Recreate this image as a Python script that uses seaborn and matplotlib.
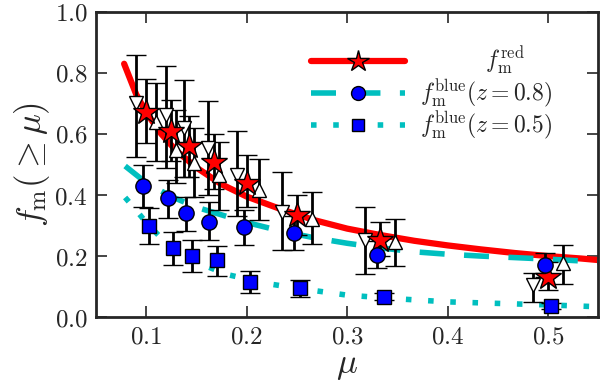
import numpy as np
import pandas as pd
import matplotlib
matplotlib.use('Agg')
import matplotlib.pyplot as plt
import seaborn as sns

# model curves
mu_red = [0.078, 0.09, 0.1, 0.115, 0.13, 0.15, 0.175, 0.2, 0.233, 0.267, 0.3,
          0.333, 0.367, 0.4, 0.433, 0.467, 0.5, 0.533, 0.55]
f_red = [0.83, 0.73, 0.67, 0.60, 0.545, 0.49, 0.435, 0.395, 0.355, 0.318, 0.29,
         0.269, 0.25, 0.235, 0.222, 0.21, 0.2, 0.192, 0.187]
mu_b08 = [0.079, 0.1, 0.125, 0.15, 0.175, 0.2, 0.233, 0.267, 0.3, 0.333, 0.367,
          0.4, 0.433, 0.467, 0.5, 0.55]
f_b08 = [0.495, 0.44, 0.395, 0.36, 0.335, 0.31, 0.283, 0.26, 0.242, 0.227, 0.214,
         0.206, 0.2, 0.195, 0.19, 0.181]
mu_b05 = [0.079, 0.09, 0.1, 0.117, 0.133, 0.153, 0.18, 0.2, 0.22, 0.25, 0.3, 0.35,
          0.4, 0.45, 0.5, 0.55]
f_b05 = [0.392, 0.35, 0.31, 0.252, 0.21, 0.176, 0.14, 0.125, 0.11, 0.095, 0.072,
         0.06, 0.05, 0.045, 0.04, 0.034]

# measurements
mu_star = [0.1, 0.125, 0.143, 0.167, 0.2, 0.25, 0.333, 0.5]
f_star = [0.673, 0.611, 0.561, 0.509, 0.438, 0.334, 0.252, 0.132]
star_lo = [0.57, 0.51, 0.46, 0.42, 0.36, 0.27, 0.20, 0.09]
star_hi = [0.78, 0.71, 0.66, 0.60, 0.53, 0.40, 0.31, 0.18]

mu_dn = [0.09, 0.12, 0.138, 0.162, 0.19, 0.235, 0.318, 0.485]
f_dn = [0.70, 0.662, 0.619, 0.553, 0.466, 0.345, 0.252, 0.105]
dn_lo = [0.523, 0.49, 0.46, 0.40, 0.33, 0.22, 0.141, 0.051]
dn_hi = [0.859, 0.823, 0.777, 0.709, 0.611, 0.476, 0.362, 0.145]

mu_up = [0.11, 0.13, 0.148, 0.172, 0.212, 0.265, 0.348, 0.515]
f_up = [0.64, 0.548, 0.504, 0.466, 0.416, 0.323, 0.247, 0.176]
up_lo = [0.512, 0.44, 0.395, 0.35, 0.318, 0.24, 0.167, 0.11]
up_hi = [0.768, 0.68, 0.62, 0.575, 0.517, 0.411, 0.32, 0.236]

mu_circ = [0.0967, 0.122, 0.14, 0.163, 0.197, 0.247, 0.33, 0.497]
f_circ = [0.43, 0.389, 0.34, 0.313, 0.294, 0.274, 0.203, 0.17]
circ_lo = [0.36, 0.324, 0.283, 0.252, 0.236, 0.22, 0.16, 0.13]
circ_hi = [0.498, 0.449, 0.394, 0.378, 0.351, 0.33, 0.25, 0.211]

mu_sq = [0.103, 0.127, 0.146, 0.17, 0.203, 0.253, 0.337, 0.503]
f_sq = [0.30, 0.225, 0.201, 0.187, 0.116, 0.094, 0.067, 0.036]
sq_lo = [0.239, 0.17, 0.149, 0.134, 0.08, 0.067, 0.055, 0.028]
sq_hi = [0.356, 0.28, 0.252, 0.233, 0.152, 0.121, 0.08, 0.045]

xticks = [0.1, 0.2, 0.3, 0.4, 0.5]
yticks = [0.0, 0.2, 0.4, 0.6, 0.8, 1.0]

sns.set_style('ticks')
plt.rcParams['font.family'] = ['DejaVu Serif']
plt.rcParams['mathtext.fontset'] = 'cm'
plt.rcParams['xtick.direction'] = 'in'
plt.rcParams['ytick.direction'] = 'in'

fig = plt.figure(figsize=(6, 3.83), dpi=100)
ax = fig.add_axes([0.16, 0.172, 0.837, 0.797])

sns.lineplot(x=mu_red, y=f_red, ax=ax, color='red', lw=4.5, sort=False,
             estimator=None, zorder=2)
sns.lineplot(x=mu_b08, y=f_b08, ax=ax, color='c', lw=4, sort=False,
             estimator=None, zorder=2, dashes=False)
ax.lines[-1].set_dashes([4.5, 3.5])
sns.lineplot(x=mu_b05, y=f_b05, ax=ax, color='c', lw=4, sort=False,
             estimator=None, zorder=2, dashes=False)
ax.lines[-1].set_dashes([1, 3])


def errpts(x, y, lo, hi, **kw):
    y = np.array(y)
    yerr = [y - np.array(lo), np.array(hi) - y]
    ax.errorbar(x, y, yerr=yerr, ls='none', ecolor='k', elinewidth=2,
                capsize=7, capthick=2, mec='k', mew=1, zorder=3, **kw)


errpts(mu_dn, f_dn, dn_lo, dn_hi, marker='v', mfc='white', ms=10)
errpts(mu_up, f_up, up_lo, up_hi, marker='^', mfc='white', ms=10)
errpts(mu_star, f_star, star_lo, star_hi, marker='*', mfc='red', ms=19)
errpts(mu_circ, f_circ, circ_lo, circ_hi, marker='o', mfc='blue', ms=11)
errpts(mu_sq, f_sq, sq_lo, sq_hi, marker='s', mfc='blue', ms=10)

# legend handles
h1, = ax.plot([], [], color='red', lw=4.5, marker='*', ms=16, mfc='red', mec='k')
h2, = ax.plot([], [], color='c', lw=4, marker='o', ms=10, mfc='blue', mec='k')
h2.set_dashes([4.5, 3.5])
h3, = ax.plot([], [], color='c', lw=4, marker='s', ms=9, mfc='blue', mec='k')
h3.set_dashes([1, 3])
ax.legend([h1, h2, h3],
          [r'$\qquad\quad\,f_{\rm m}^{\rm red}$',
           r'$f_{\rm m}^{\rm blue}(z=0.8)$',
           r'$f_{\rm m}^{\rm blue}(z=0.5)$'],
          loc='upper right', bbox_to_anchor=(0.95, 0.96), frameon=False,
          numpoints=1, fontsize=17, handlelength=4.0, labelspacing=0.0,
          handletextpad=0.6)

ax.set_xlim(0.05, 0.55)
ax.set_ylim(0.0, 1.0)
ax.set_xticks(xticks)
ax.set_xticklabels([f'${v:.1f}$' for v in xticks], fontsize=18)
ax.set_yticks(yticks)
ax.set_yticklabels([f'${v:.1f}$' for v in yticks], fontsize=18)
ax.tick_params(top=True, right=True, length=8, width=1.2, pad=6)
for s in ax.spines.values():
    s.set_linewidth(2)
    s.set_visible(True)
ax.set_xlabel(r'$\mu$', fontsize=25, labelpad=0)
ax.set_ylabel(r'$f_{\rm m}(\geq\mu)$', fontsize=25, labelpad=2)

fig.savefig('out.png', dpi=100)
